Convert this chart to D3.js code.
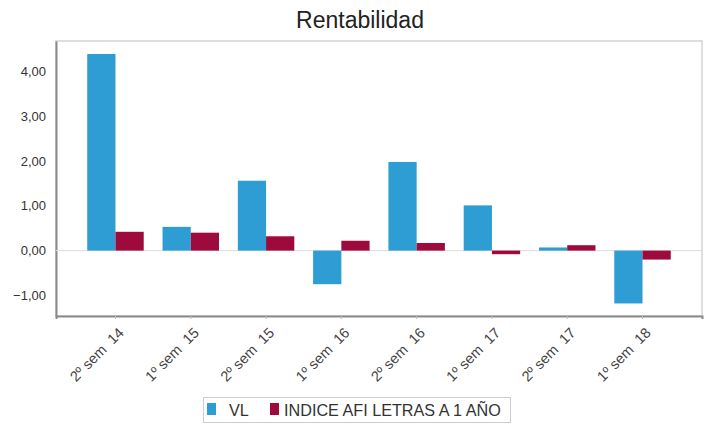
<!DOCTYPE html>
<html>
<head>
<meta charset="utf-8">
<script src="https://cdn.jsdelivr.net/npm/d3@7"></script>
<style>
  body { margin: 0; background: #fff; }
  text { font-family: "Liberation Sans", Arial, sans-serif; }
</style>
</head>
<body>
<svg width="709" height="424"></svg>
<script>
// Data
var periods = ["2º sem  14", "1º sem  15", "2º sem  15", "1º sem  16", "2º sem  16", "1º sem  17", "2º sem  17", "1º sem  18"];
var vl = [4.39, 0.53, 1.56, -0.75, 1.98, 1.01, 0.07, -1.18];
var indice = [0.42, 0.40, 0.32, 0.22, 0.17, -0.08, 0.12, -0.20];
var seriesNames = ["VL", "INDICE AFI LETRAS A 1 AÑO"];
var yTicks = [-1, 0, 1, 2, 3, 4];

var colors = ["#2E9DD3", "#9E0A3B"];

var svg = d3.select("svg"),
  width = +svg.attr("width"),
  height = +svg.attr("height");

var plot = { left: 56, right: 702, top: 41, bottom: 316 };

// Scales
var x = d3.scaleBand()
  .domain(periods)
  .range([plot.left, plot.right])
  .paddingInner(0.25)
  .paddingOuter(0.415);

var xSub = d3.scaleBand()
  .domain(seriesNames)
  .range([0, x.bandwidth()]);

var y = d3.scaleLinear()
  .domain([-1.46, 4.68])
  .range([plot.bottom, plot.top]);

// Title
svg.append("text")
  .attr("x", 360)
  .attr("y", 28)
  .attr("text-anchor", "middle")
  .style("font-size", "23px")
  .style("fill", "#222")
  .text("Rentabilidad");

// Frame
svg.append("rect")
  .attr("x", plot.left)
  .attr("y", plot.top)
  .attr("width", plot.right - plot.left)
  .attr("height", plot.bottom - plot.top)
  .attr("fill", "#fff")
  .attr("stroke", "#d4d4d4")
  .attr("stroke-width", 1.5);

// Y axis
var yAxis = d3.axisLeft(y)
  .tickValues(yTicks)
  .tickSize(0)
  .tickPadding(10)
  .tickFormat(function (d) { return d3.format(".2f")(d).replace(".", ","); });

var gy = svg.append("g")
  .attr("transform", "translate(" + plot.left + ",0)")
  .call(yAxis);
gy.select(".domain").attr("stroke", "#8a8a8a").attr("stroke-width", 2);
gy.selectAll("text")
  .style("font-size", "13px")
  .style("fill", "#333");

// zero line
svg.append("line")
  .attr("x1", plot.left)
  .attr("x2", plot.right)
  .attr("y1", y(0))
  .attr("y2", y(0))
  .attr("stroke", "#dcdcdc")
  .attr("stroke-width", 1);

// Bars
var groups = svg.append("g")
  .selectAll("g")
  .data(periods)
  .enter()
  .append("g")
  .attr("transform", function (d) { return "translate(" + x(d) + ",0)"; });

groups.selectAll("rect")
  .data(function (d, i) {
    return [
      { key: seriesNames[0], value: vl[i] },
      { key: seriesNames[1], value: indice[i] }
    ];
  })
  .enter()
  .append("rect")
  .attr("x", function (d) { return xSub(d.key); })
  .attr("width", xSub.bandwidth())
  .attr("y", function (d) { return y(Math.max(0, d.value)); })
  .attr("height", function (d) { return Math.abs(y(d.value) - y(0)); })
  .attr("fill", function (d, i) { return colors[i]; });

// X axis
var xAxis = d3.axisBottom(x).tickSize(3).tickPadding(4);
var gx = svg.append("g")
  .attr("transform", "translate(0," + plot.bottom + ")")
  .call(xAxis);
gx.select(".domain").attr("stroke", "#8a8a8a").attr("stroke-width", 2);
gx.selectAll(".tick line").attr("stroke", "#bbb");
gx.selectAll("text")
  .style("font-size", "14.5px")
  .style("white-space", "pre")
  .style("fill", "#444")
  .attr("text-anchor", "end")
  .attr("dx", "-6")
  .attr("dy", "12")
  .attr("transform", "rotate(-45)");

// Legend
var legend = svg.append("g");
legend.append("rect")
  .attr("x", 203.5)
  .attr("y", 397.5)
  .attr("width", 307)
  .attr("height", 25)
  .attr("fill", "#fff")
  .attr("stroke", "#ccc");

var legendX = [207, 270];
var textX = [229, 284];
seriesNames.forEach(function (name, i) {
  legend.append("rect")
    .attr("x", legendX[i])
    .attr("y", 403)
    .attr("width", 9)
    .attr("height", 12)
    .attr("fill", colors[i]);
  legend.append("text")
    .attr("x", textX[i])
    .attr("y", 416)
    .style("font-size", "16.2px")
    .style("fill", "#333")
    .text(name);
});
</script>
</body>
</html>
